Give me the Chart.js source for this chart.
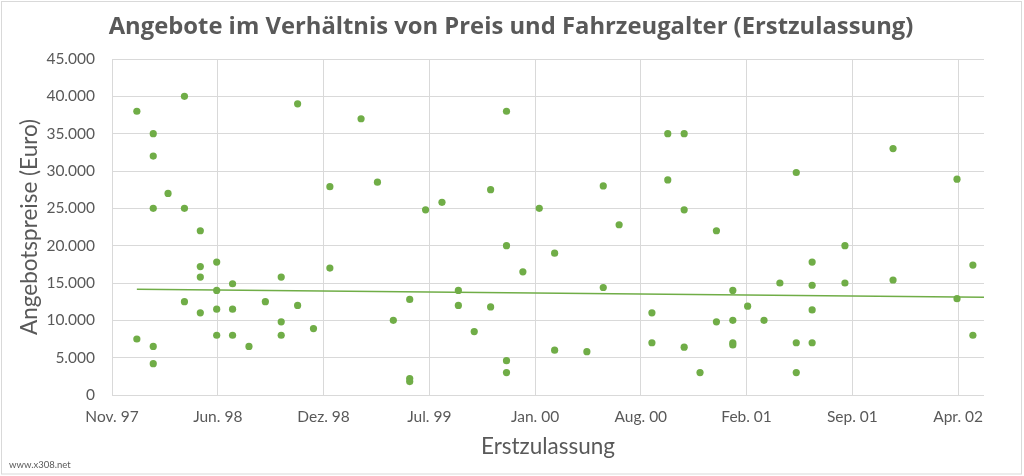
<!DOCTYPE html>
<html lang="de">
<head>
<meta charset="utf-8">
<title>Angebote im Verhältnis von Preis und Fahrzeugalter</title>
<script src="https://cdn.jsdelivr.net/npm/chart.js@4"></script>
<style>
  html, body { margin: 0; padding: 0; background: #ffffff; }
  #wrap { width: 1024px; height: 476px; }
</style>
</head>
<body>
<div id="wrap"><canvas id="c" width="1024" height="476"></canvas></div>
<script>
// ---- data (month of first registration, asking price in Euro) ----
const registrationMonths = [
  "1998-01","1998-01",
  "1998-02","1998-02","1998-02","1998-02","1998-02",
  "1998-03",
  "1998-04","1998-04","1998-04",
  "1998-05","1998-05","1998-05","1998-05",
  "1998-06","1998-06","1998-06","1998-06",
  "1998-07","1998-07","1998-07",
  "1998-08",
  "1998-09",
  "1998-10","1998-10","1998-10",
  "1998-11","1998-11",
  "1998-12",
  "1999-01","1999-01",
  "1999-03",
  "1999-04",
  "1999-05",
  "1999-06","1999-06","1999-06",
  "1999-07",
  "1999-08",
  "1999-09","1999-09",
  "1999-10",
  "1999-11","1999-11",
  "1999-12","1999-12","1999-12","1999-12",
  "2000-01",
  "2000-02",
  "2000-03","2000-03",
  "2000-05",
  "2000-06","2000-06",
  "2000-07",
  "2000-09","2000-09",
  "2000-10","2000-10",
  "2000-11","2000-11","2000-11",
  "2000-12",
  "2001-01","2001-01",
  "2001-02","2001-02","2001-02","2001-02",
  "2001-03",
  "2001-04",
  "2001-05",
  "2001-06","2001-06","2001-06",
  "2001-07","2001-07","2001-07","2001-07",
  "2001-09","2001-09",
  "2001-12","2001-12",
  "2002-04","2002-04",
  "2002-05","2002-05"
];
const prices = [
  38000, 7500,
  35000, 32000, 25000, 6500, 4200,
  27000,
  40000, 25000, 12500,
  22000, 17200, 15800, 11000,
  17800, 14000, 11500, 8000,
  14900, 11500, 8000,
  6500,
  12500,
  15800, 9800, 8000,
  39000, 12000,
  8900,
  27900, 17000,
  37000,
  28500,
  10000,
  12800, 2200, 1800,
  24800,
  25800,
  14000, 12000,
  8500,
  27500, 11800,
  38000, 20000, 4600, 3000,
  16500,
  25000,
  19000, 6000,
  5800,
  28000, 14400,
  22800,
  11000, 7000,
  35000, 28800,
  35000, 24800, 6400,
  3000,
  22000, 9800,
  14000, 10000, 7000, 6700,
  11900,
  10000,
  15000,
  29800, 7000, 3000,
  17800, 14700, 11400, 7000,
  20000, 15000,
  33000, 15400,
  28900, 12900,
  17400, 8000
];
// linear trend line (start / end)
const trendDates  = ["1998-01-01", "2002-05-22"];
const trendValues = [14150, 13100];
// axis set-up
const axisStartDate = "1997-11-15";
const axisEndDate   = "2002-05-22";
const axisStepDays  = 200;
const yMin = 0, yMax = 45000, yStep = 5000;
const monthLabels = ["Jan.","Feb.","Mär.","Apr.","Mai","Jun.","Jul.","Aug.","Sep.","Okt.","Nov.","Dez."];

const titleText  = "Angebote im Verhältnis von Preis und Fahrzeugalter (Erstzulassung)";
const xTitleText = "Erstzulassung";
const yTitleText = "Angebotspreise (Euro)";
const watermark  = "www.x308.net";

// ---- helpers ----
const DAY = 86400000;
function dayNum(s) {
  const p = s.split("-").map(Number);
  return Date.UTC(p[0], p[1] - 1, p[2] || 1) / DAY;
}
function fmtThousands(v) {
  return String(Math.round(v)).replace(/\B(?=(\d{3})+(?!\d))/g, ".");
}
function fmtMonth(d) {
  const dt = new Date(d * DAY);
  return monthLabels[dt.getUTCMonth()] + " " + String(dt.getUTCFullYear() % 100).padStart(2, "0");
}

const points = registrationMonths.map((m, i) => ({ x: dayNum(m), y: prices[i] }));
const trend = trendDates.map((d, i) => ({ x: dayNum(d), y: trendValues[i] }));
const xMin = dayNum(axisStartDate), xMax = dayNum(axisEndDate);

const TEXT = "#595959";
const GREEN = "#70AD47";
const GRID = "#D9D9D9";
const FONT = "Lato, 'Open Sans', sans-serif";
const TITLE_FONT = "'Open Sans', Lato, sans-serif";

const decor = {
  id: "decor",
  beforeDraw(chart) {
    const ctx = chart.ctx;
    ctx.save();
    ctx.fillStyle = "#ffffff";
    ctx.fillRect(0, 0, chart.width, chart.height);
    ctx.restore();
  },
  afterDraw(chart) {
    const ctx = chart.ctx;
    const a = chart.chartArea;
    ctx.save();
    // outer frame
    ctx.strokeStyle = GRID;
    ctx.lineWidth = 1;
    ctx.strokeRect(1.5, 1.5, 1020, 472.5);
    // title (fitted to the width it takes in the reference)
    ctx.fillStyle = TEXT;
    ctx.textAlign = "center";
    ctx.textBaseline = "alphabetic";
    let size = 22;
    ctx.font = "bold " + size + "px " + TITLE_FONT;
    const w = ctx.measureText(titleText).width;
    size = Math.min(26, size * 805 / w);
    ctx.font = "bold " + size.toFixed(2) + "px " + TITLE_FONT;
    ctx.fillText(titleText, 511, 33.5);
    // x axis title
    ctx.font = "22.5px " + FONT;
    ctx.textBaseline = "middle";
    ctx.fillText(xTitleText, (a.left + a.right) / 2, 447);
    // y axis title
    ctx.save();
    ctx.translate(30, (a.top + a.bottom) / 2);
    ctx.rotate(-Math.PI / 2);
    ctx.fillText(yTitleText, 0, 0);
    ctx.restore();
    // watermark
    ctx.font = "9.5px " + FONT;
    ctx.textAlign = "left";
    ctx.fillText(watermark, 9, 465);
    ctx.restore();
  }
};

new Chart(document.getElementById("c"), {
  type: "scatter",
  data: {
    datasets: [
      {
        type: "line",
        label: "Trend",
        data: trend,
        borderColor: GREEN,
        borderWidth: 1.5,
        pointRadius: 0,
        fill: false,
        order: 0
      },
      {
        label: "Angebote",
        data: points,
        backgroundColor: GREEN,
        borderColor: GREEN,
        borderWidth: 0,
        pointRadius: 3.6,
        pointHoverRadius: 3.6,
        order: 1
      }
    ]
  },
  options: {
    responsive: false,
    animation: false,
    devicePixelRatio: 1,
    layout: { padding: { top: 59, right: 40, left: 0, bottom: 0 } },
    plugins: {
      legend: { display: false },
      title: { display: false },
      tooltip: { enabled: false }
    },
    scales: {
      x: {
        type: "linear",
        min: xMin,
        max: xMax,
        afterFit(scale) { scale.height = 81; },
        afterBuildTicks(scale) {
          const t = [];
          for (let v = xMin; v <= xMax; v += axisStepDays) t.push({ value: v });
          scale.ticks = t;
        },
        grid: { color: GRID, lineWidth: 1, drawTicks: false },
        border: { display: false },
        ticks: {
          color: TEXT,
          font: { family: FONT, size: 15.5 },
          padding: 13,
          maxRotation: 0,
          autoSkip: false,
          callback: (v) => fmtMonth(v)
        }
      },
      y: {
        min: yMin,
        max: yMax,
        afterFit(scale) { scale.width = 112; },
        grid: { color: GRID, lineWidth: 1, drawTicks: false },
        border: { display: false },
        ticks: {
          stepSize: yStep,
          color: TEXT,
          font: { family: FONT, size: 15.5 },
          padding: 17,
          callback: (v) => fmtThousands(v)
        }
      }
    }
  },
  plugins: [decor]
});
</script>
</body>
</html>
